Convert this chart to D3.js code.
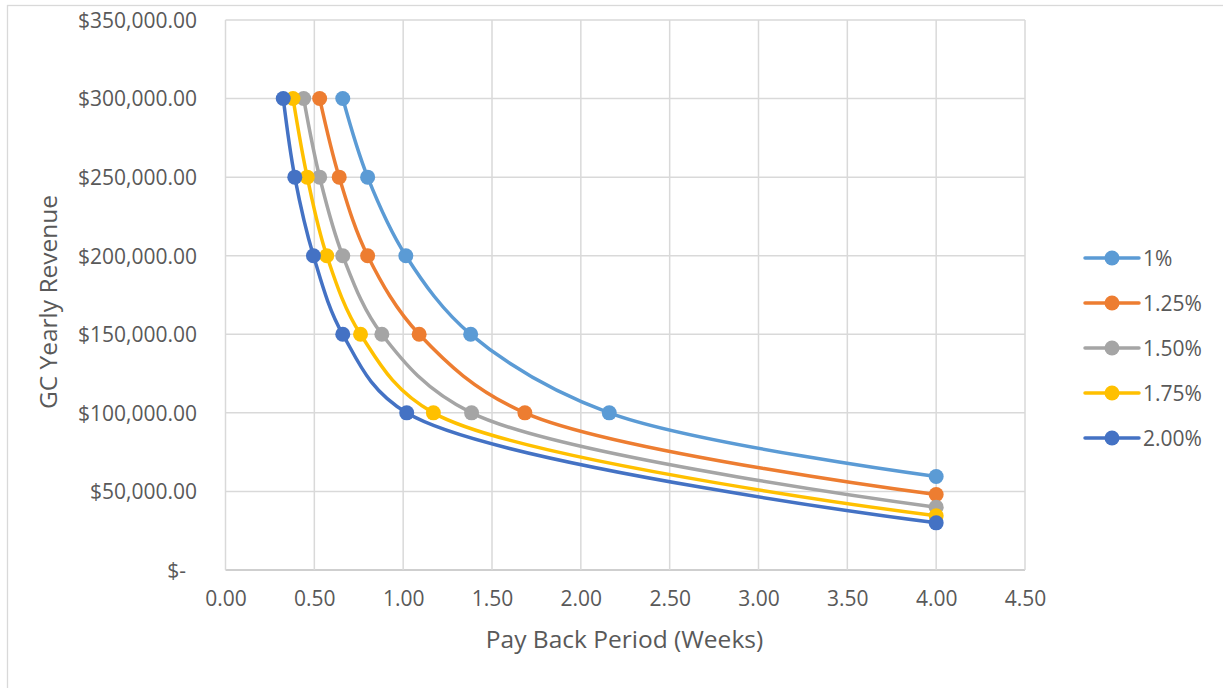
<!DOCTYPE html>
<html>
<head>
<meta charset="utf-8">
<script src="https://cdn.jsdelivr.net/npm/d3@7"></script>
<style>
  html, body { margin: 0; padding: 0; background: #fff; }
  svg { display: block; font-family: "Open Sans", "Noto Sans", sans-serif; }
</style>
</head>
<body>
<svg id="chart" width="1223" height="688"></svg>
<script>
// ---- data ----
const seriesNames = ["1%", "1.25%", "1.50%", "1.75%", "2.00%"];
const revenue = [300000, 250000, 200000, 150000, 100000];
const payback1 = [0.66, 0.80, 1.015, 1.38, 2.16, 4.0];
const payback125 = [0.53, 0.64, 0.80, 1.09, 1.685, 4.0];
const payback150 = [0.44, 0.53, 0.66, 0.88, 1.385, 4.0];
const payback175 = [0.38, 0.46, 0.57, 0.76, 1.17, 4.0];
const payback200 = [0.325, 0.39, 0.495, 0.66, 1.02, 4.0];
const revenue1 = [...revenue, 59500];
const revenue125 = [...revenue, 48000];
const revenue150 = [...revenue, 40000];
const revenue175 = [...revenue, 34500];
const revenue200 = [...revenue, 30000];
const colors = ["#5B9BD5", "#ED7D31", "#A5A5A5", "#FFC000", "#4472C4"];
const xTicks = [0, 0.5, 1, 1.5, 2, 2.5, 3, 3.5, 4, 4.5];
const yTicks = [0, 50000, 100000, 150000, 200000, 250000, 300000, 350000];

const series = [
  {name: seriesNames[0], x: payback1, y: revenue1},
  {name: seriesNames[1], x: payback125, y: revenue125},
  {name: seriesNames[2], x: payback150, y: revenue150},
  {name: seriesNames[3], x: payback175, y: revenue175},
  {name: seriesNames[4], x: payback200, y: revenue200}
];

const svg = d3.select("#chart");
const textColor = "#595959";
const gridColor = "#D9D9D9";

// outer chart frame
svg.append("rect").attr("x", 7.5).attr("y", 5.5).attr("width", 1300).attr("height", 800)
  .attr("fill", "#fff").attr("stroke", gridColor).attr("stroke-width", 1.3);

const x = d3.scaleLinear().domain([0, 4.5]).range([225.5, 1025]);
const y = d3.scaleLinear().domain([0, 350000]).range([570, 20]);

// gridlines
svg.append("g").selectAll("line.h").data(yTicks).join("line")
  .attr("x1", x(0)).attr("x2", x(4.5))
  .attr("y1", d => y(d)).attr("y2", d => y(d))
  .attr("stroke", d => d === 0 ? "#BFBFBF" : gridColor).attr("stroke-width", 1.5);
svg.append("g").selectAll("line.v").data(xTicks).join("line")
  .attr("x1", d => x(d)).attr("x2", d => x(d))
  .attr("y1", y(0)).attr("y2", y(350000))
  .attr("stroke", gridColor).attr("stroke-width", 1.5);

// axes (labels only, via d3 axis)
const fmt = d3.format("$,.2f");
const yAxis = d3.axisLeft(y).tickValues(yTicks)
  .tickFormat(d => d === 0 ? "$-" : fmt(d)).tickSize(0).tickPadding(0);
const gy = svg.append("g").attr("transform", "translate(197,0)").call(yAxis);
gy.select(".domain").remove();
gy.selectAll("text").attr("fill", textColor).style("font-size", "21px")
  .style("font-family", "'Open Sans', sans-serif")
  .attr("dy", "0.35em")
  .attr("x", d => d === 0 ? -11 : 0);

const xAxis = d3.axisBottom(x).tickValues(xTicks).tickFormat(d3.format(".2f")).tickSize(0).tickPadding(0);
const gx = svg.append("g").attr("transform", "translate(0,595)").call(xAxis);
gx.select(".domain").remove();
gx.selectAll("text").attr("fill", textColor).style("font-size", "21px")
  .style("font-family", "'Open Sans', sans-serif").attr("dy", "0.71em").attr("y", -4);

// axis titles
svg.append("text").attr("x", 624.5).attr("y", 648).attr("text-anchor", "middle")
  .attr("fill", textColor).style("font-size", "24.5px").text("Pay Back Period (Weeks)");
svg.append("text").attr("transform", "translate(57,302) rotate(-90)").attr("text-anchor", "middle")
  .attr("fill", textColor).style("font-size", "24.5px").text("GC Yearly Revenue");

// lines
const line = d3.line().x(d => x(d[0])).y(d => y(d[1])).curve(d3.curveCatmullRom.alpha(0.5));
series.forEach((s, i) => {
  const pts = s.x.map((v, j) => [v, s.y[j]]);
  const g = svg.append("g");
  g.append("path").attr("d", line(pts)).attr("fill", "none")
    .attr("stroke", colors[i]).attr("stroke-width", 3.5).attr("stroke-linecap", "round");
  g.selectAll("circle").data(pts).join("circle")
    .attr("cx", d => x(d[0])).attr("cy", d => y(d[1])).attr("r", 7.5)
    .attr("fill", colors[i]);
});

// legend
const legend = svg.append("g");
seriesNames.forEach((n, i) => {
  const ly = 258 + i * 45;
  legend.append("line").attr("x1", 1085).attr("x2", 1139).attr("y1", ly).attr("y2", ly)
    .attr("stroke", colors[i]).attr("stroke-width", 3.5).attr("stroke-linecap", "round");
  legend.append("circle").attr("cx", 1112).attr("cy", ly).attr("r", 7.5).attr("fill", colors[i]);
  legend.append("text").attr("x", 1143).attr("y", ly).attr("dy", "0.36em")
    .attr("fill", textColor).style("font-size", "21px").text(n);
});
</script>
</body>
</html>
